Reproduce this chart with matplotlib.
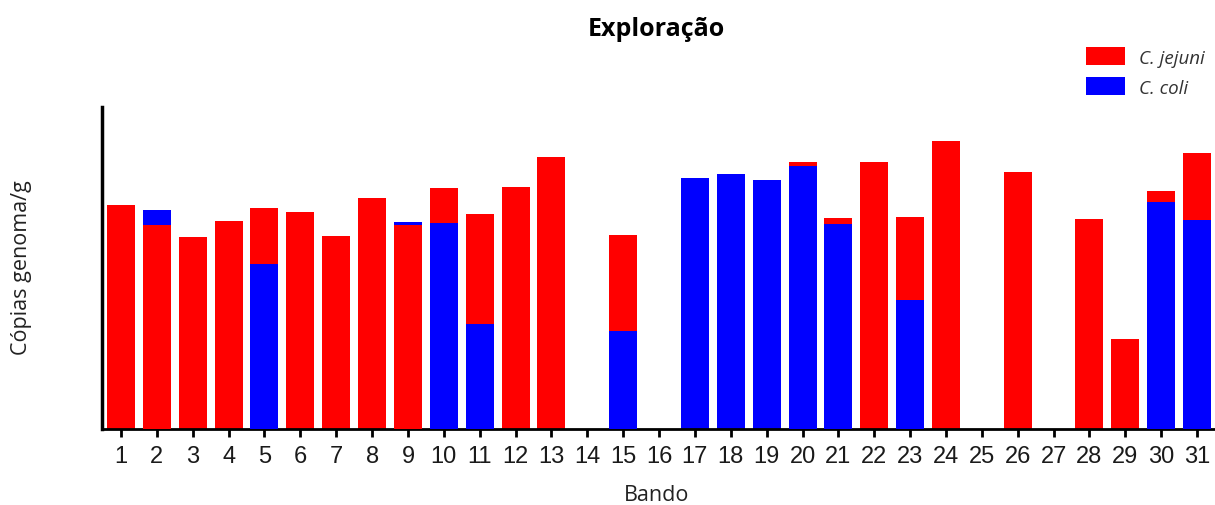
import matplotlib
matplotlib.use("Agg")
import matplotlib.pyplot as plt
from matplotlib.patches import Patch
import numpy as np

bandos = list(range(1, 32))
# Values in arbitrary units (0 = absent)
jejuni = [224, 204, 192, 208, 221, 217, 193, 231, 204, 241, 215, 242, 272, 0, 194, 0,
          0, 0, 0, 267, 211, 267, 212, 288, 0, 257, 0, 210, 90, 238, 276]
coli = [0, 219, 0, 0, 165, 0, 0, 0, 207, 206, 105, 0, 0, 0, 98, 0,
        251, 255, 249, 263, 205, 0, 129, 0, 0, 0, 0, 0, 0, 227, 209]

RED = "#ff0000"
BLUE = "#0000ff"

fig = plt.figure(figsize=(12.15, 5.06), dpi=100)
ax = fig.add_axes([102/1215, 1-430/506, 1-102/1215, 322/506])

w = 0.78
for x, j, c in zip(bandos, jejuni, coli):
    # shorter bar drawn in front
    zj = 3 if j <= c else 2
    zc = 3 if c < j else 2
    if j > 0:
        ax.bar(x, j, width=w, color=RED, zorder=zj, linewidth=0)
    if c > 0:
        ax.bar(x, c, width=w, color=BLUE, zorder=zc, linewidth=0)

ax.set_xlim(0.47, 31.5)
ax.set_ylim(0, 322)
ax.set_xticks(bandos)
ax.set_xticklabels([str(b) for b in bandos], fontsize=17, family="Liberation Sans")
ax.set_yticks([])
ax.tick_params(axis="x", direction="out", length=6, width=2, pad=5.5, colors="black")
for t in ax.get_xticklabels():
    t.set_color("#1a1a1a")
for s in ["top", "right"]:
    ax.spines[s].set_visible(False)
ax.spines["left"].set_linewidth(2.5)
ax.spines["bottom"].set_linewidth(2)

fig.text(657/1215, 1-496/506, "Bando", ha="center", va="center",
         fontsize=15.5, family="Open Sans", color="#222222")
fig.text(22/1215, 1-268/506, "Cópias genoma/g", ha="center", va="center", rotation=90,
         fontsize=15.5, family="Open Sans", color="#222222")
fig.text(656/1215, 1-30/506, "Exploração", ha="center", va="center",
         fontsize=18, fontweight="bold", family="Open Sans")

handles = [Patch(facecolor=RED, label="C. jejuni"), Patch(facecolor=BLUE, label="C. coli")]
leg = fig.legend(handles=handles, loc="upper left", bbox_to_anchor=(1069/1215, 1-31/506),
                 frameon=False, prop={"family": "Open Sans", "style": "italic", "size": 13.5},
                 handlelength=2.1, handleheight=1.15, handletextpad=0.75, labelspacing=0.55)
for t in leg.get_texts():
    t.set_color("#333333")

fig.savefig("out.png", dpi=100)
